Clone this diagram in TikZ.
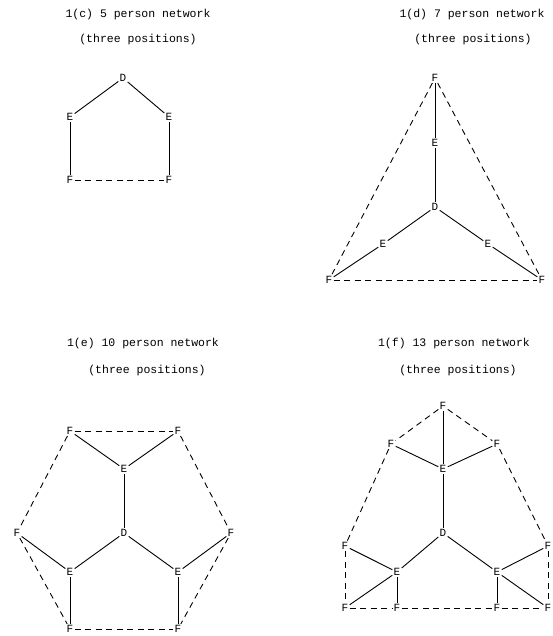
\documentclass[tikz,border=0pt]{standalone}
\usepackage{fontspec}
\setmonofont{Liberation Mono}
\begin{document}
\begin{tikzpicture}[x=1pt,y=-1pt,
  lbl/.style={font=\ttfamily\fontsize{11}{12}\selectfont, inner sep=1.2pt},
  ttl/.style={font=\ttfamily\fontsize{11.5}{13}\selectfont, inner sep=0pt},
  sol/.style={line width=0.9pt},
  dsh/.style={line width=0.9pt, dash pattern=on 6pt off 4.5pt}]
\useasboundingbox (0,0) rectangle (553,636);
% ---------- 1(c)
\node[ttl] (tc1) at (138,15) {1(c) 5 person network};
\node[ttl] (tc2) at (138,40) {(three positions)};
\node[lbl] (cD) at (123,78) {D};
\node[lbl] (cE1) at (70,117) {E};
\node[lbl] (cE2) at (169,117) {E};
\node[lbl] (cF1) at (70,180) {F};
\node[lbl] (cF2) at (169,180) {F};
\draw[sol] (cD) -- (cE1); \draw[sol] (cD) -- (cE2);
\draw[sol] (cE1) -- (cF1); \draw[sol] (cE2) -- (cF2);
\draw[dsh] (cF1) -- (cF2);
% ---------- 1(d)
\node[ttl] (td1) at (472,15) {1(d) 7 person network};
\node[ttl] (td2) at (473,40) {(three positions)};
\node[lbl] (dFt) at (435,78) {F};
\node[lbl] (dEt) at (435,143) {E};
\node[lbl] (dD) at (435,207) {D};
\node[lbl] (dEl) at (383,244) {E};
\node[lbl] (dEr) at (488,244) {E};
\node[lbl] (dFl) at (329,280) {F};
\node[lbl] (dFr) at (542,280) {F};
\draw[sol] (dFt) -- (dEt); \draw[sol] (dEt) -- (dD);
\draw[sol] (dD) -- (dEl); \draw[sol] (dD) -- (dEr);
\draw[sol] (dEl) -- (dFl); \draw[sol] (dEr) -- (dFr);
\draw[dsh] (dFt) -- (dFl); \draw[dsh] (dFt) -- (dFr); \draw[dsh] (dFl) -- (dFr);
% ---------- 1(e)
\node[ttl] (te1) at (143,344) {1(e) 10 person network};
\node[ttl] (te2) at (147,371) {(three positions)};
\node[lbl] (eFtl) at (70,431) {F};
\node[lbl] (eFtr) at (178,431) {F};
\node[lbl] (eEt) at (124,469) {E};
\node[lbl] (eD) at (124,533) {D};
\node[lbl] (eFl) at (17,533) {F};
\node[lbl] (eFr) at (231,533) {F};
\node[lbl] (eEl) at (70,572) {E};
\node[lbl] (eEr) at (178,572) {E};
\node[lbl] (eFbl) at (70,629) {F};
\node[lbl] (eFbr) at (178,629) {F};
\draw[sol] (eFtl) -- (eEt); \draw[sol] (eFtr) -- (eEt); \draw[sol] (eEt) -- (eD);
\draw[sol] (eD) -- (eEl); \draw[sol] (eD) -- (eEr);
\draw[sol] (eFl) -- (eEl); \draw[sol] (eFr) -- (eEr);
\draw[sol] (eEl) -- (eFbl); \draw[sol] (eEr) -- (eFbr);
\draw[dsh] (eFtl) -- (eFtr); \draw[dsh] (eFtl) -- (eFl); \draw[dsh] (eFtr) -- (eFr);
\draw[dsh] (eFl) -- (eFbl); \draw[dsh] (eFr) -- (eFbr); \draw[dsh] (eFbl) -- (eFbr);
% ---------- 1(f)
\node[ttl] (tf1) at (454,344) {1(f) 13 person network};
\node[ttl] (tf2) at (458,371) {(three positions)};
\node[lbl] (fFt) at (443,406) {F};
\node[lbl] (fFl) at (391,444) {F};
\node[lbl] (fFr) at (497,444) {F};
\node[lbl] (fEt) at (443,469) {E};
\node[lbl] (fD) at (443,533) {D};
\node[lbl] (fFlm) at (345,546) {F};
\node[lbl] (fFrm) at (548,546) {F};
\node[lbl] (fEl) at (397,572) {E};
\node[lbl] (fEr) at (497,572) {E};
\node[lbl] (fFb1) at (345,608) {F};
\node[lbl] (fFb2) at (397,608) {F};
\node[lbl] (fFb3) at (497,608) {F};
\node[lbl] (fFb4) at (548,608) {F};
\draw[sol] (fFt) -- (fEt); \draw[sol] (fFl) -- (fEt); \draw[sol] (fFr) -- (fEt);
\draw[sol] (fEt) -- (fD); \draw[sol] (fD) -- (fEl); \draw[sol] (fD) -- (fEr);
\draw[sol] (fFlm) -- (fEl); \draw[sol] (fEl) -- (fFb1); \draw[sol] (fEl) -- (fFb2);
\draw[sol] (fFrm) -- (fEr); \draw[sol] (fEr) -- (fFb3); \draw[sol] (fEr) -- (fFb4);
\draw[dsh] (fFt) -- (fFl); \draw[dsh] (fFt) -- (fFr);
\draw[dsh] (fFl) -- (fFlm); \draw[dsh] (fFr) -- (fFrm);
\draw[dsh] (fFlm) -- (fFb1); \draw[dsh] (fFrm) -- (fFb4);
\draw[dsh] (fFb1) -- (fFb2); \draw[dsh] (fFb2) -- (fFb3); \draw[dsh] (fFb3) -- (fFb4);
\end{tikzpicture}
\end{document}
